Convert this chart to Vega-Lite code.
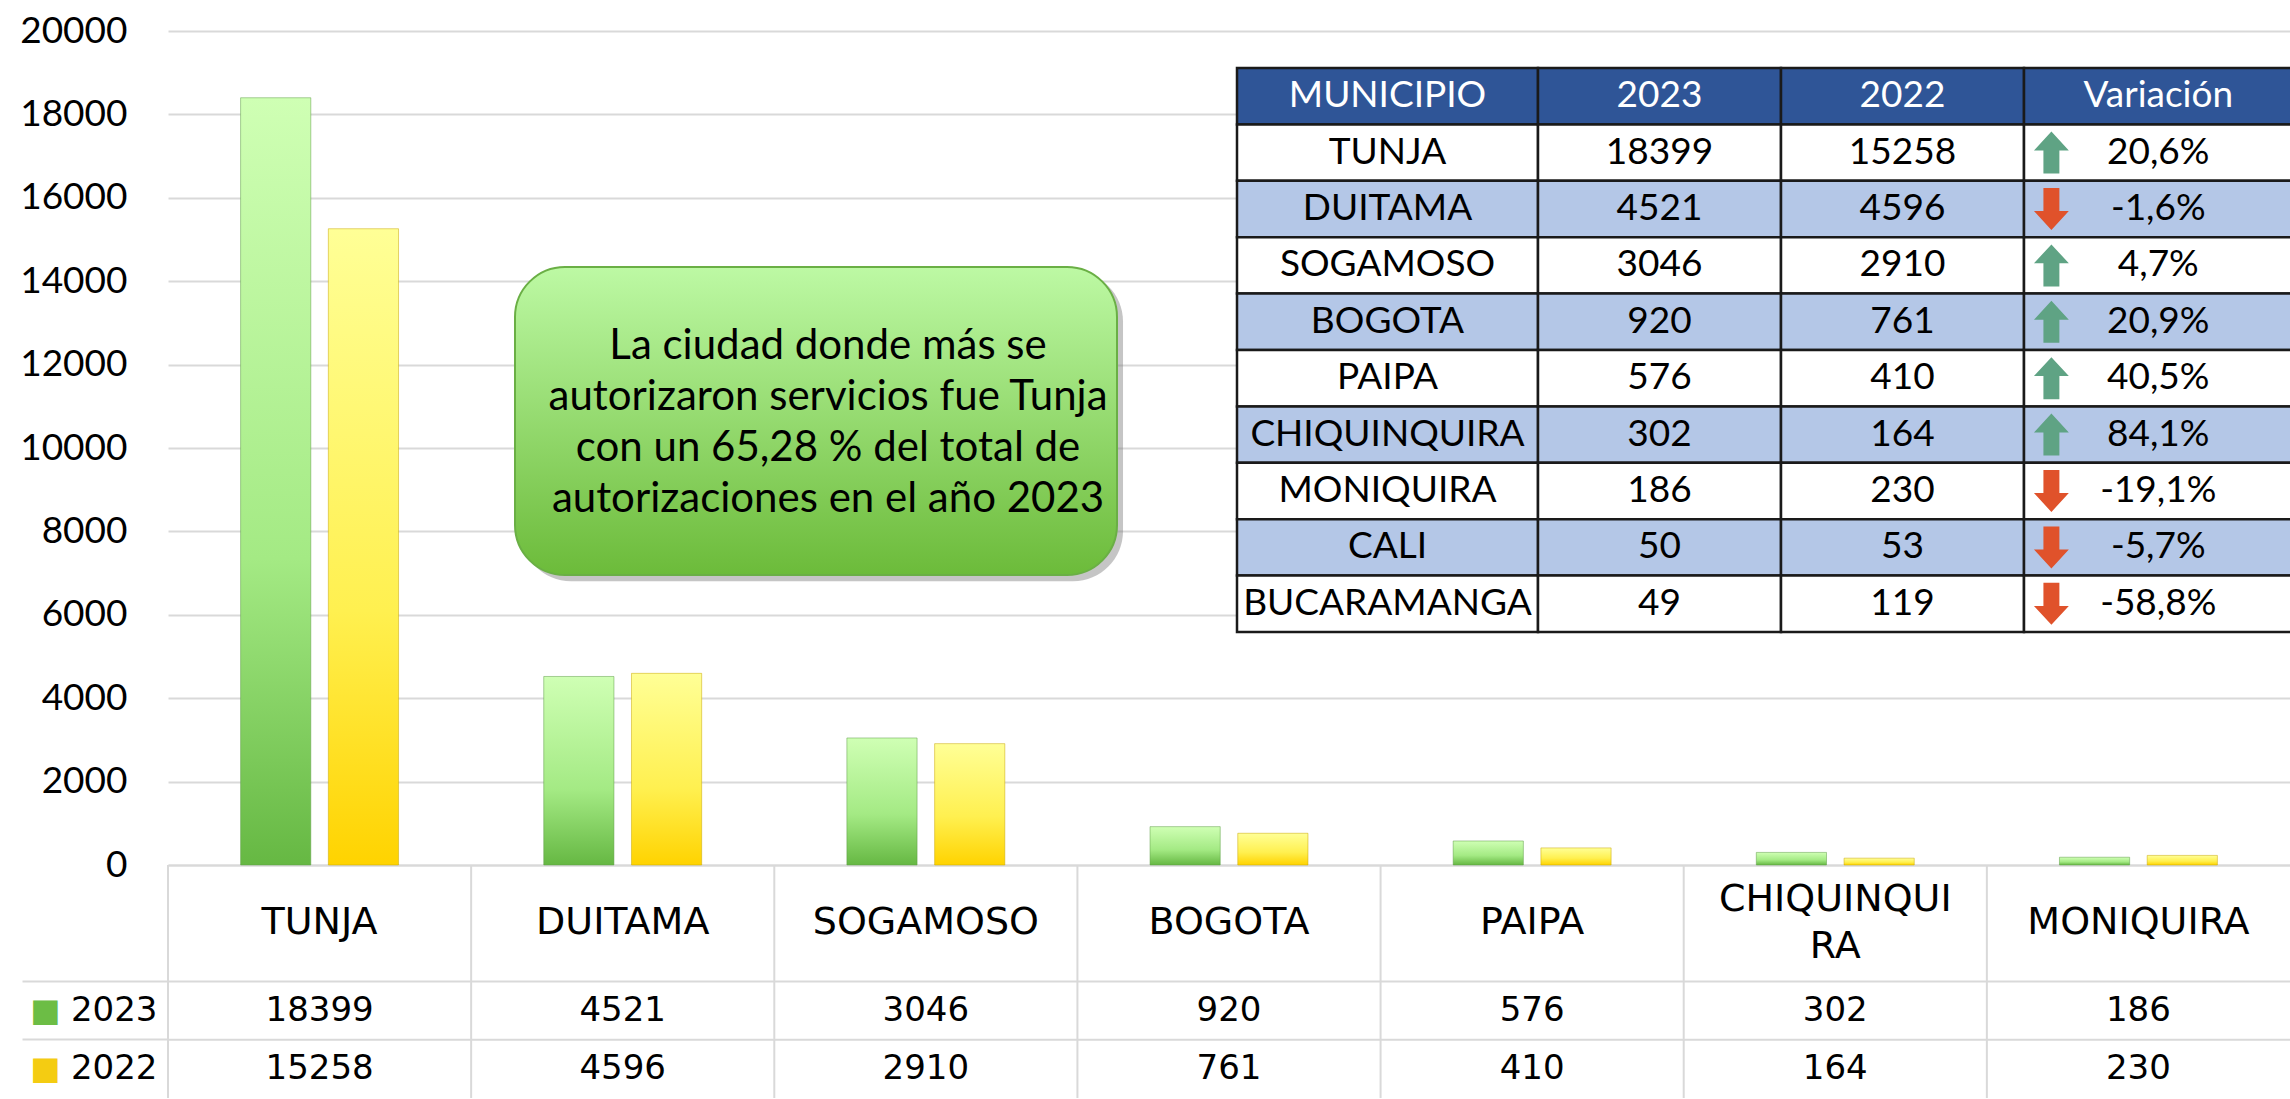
{
  "$schema": "https://vega.github.io/schema/vega-lite/v6.json",
  "background": "#FFFFFF",
  "padding": {"left": 18, "top": 12, "right": 0, "bottom": 0},
  "config": {"view": {"stroke": null}, "font": "Lato"},
  "spacing": 0,
  "bounds": "flush",
  "datasets": {
    "muni": [
      {"municipio": "TUNJA", "etiqueta": "TUNJA", "2023": 18399, "2022": 15258, "variacion": "20,6%", "tendencia": "sube"},
      {"municipio": "DUITAMA", "etiqueta": "DUITAMA", "2023": 4521, "2022": 4596, "variacion": "-1,6%", "tendencia": "baja"},
      {"municipio": "SOGAMOSO", "etiqueta": "SOGAMOSO", "2023": 3046, "2022": 2910, "variacion": "4,7%", "tendencia": "sube"},
      {"municipio": "BOGOTA", "etiqueta": "BOGOTA", "2023": 920, "2022": 761, "variacion": "20,9%", "tendencia": "sube"},
      {"municipio": "PAIPA", "etiqueta": "PAIPA", "2023": 576, "2022": 410, "variacion": "40,5%", "tendencia": "sube"},
      {"municipio": "CHIQUINQUIRA", "etiqueta": "CHIQUINQUI\nRA", "2023": 302, "2022": 164, "variacion": "84,1%", "tendencia": "sube"},
      {"municipio": "MONIQUIRA", "etiqueta": "MONIQUIRA", "2023": 186, "2022": 230, "variacion": "-19,1%", "tendencia": "baja"},
      {"municipio": "CALI", "etiqueta": "CALI", "2023": 50, "2022": 53, "variacion": "-5,7%", "tendencia": "baja"},
      {"municipio": "BUCARAMANGA", "etiqueta": "BUCARAMANGA", "2023": 49, "2022": 119, "variacion": "-58,8%", "tendencia": "baja"}
    ],
    "nota": [
      {"mensaje": "La ciudad donde más se\nautorizaron servicios fue Tunja\ncon un 65,28 % del total de\nautorizaciones en el año 2023"}
    ]
  },
  "vconcat": [
    {
      "width": 2122,
      "height": 834,
      "layer": [
        {
          "data": {"name": "muni"},
          "transform": [
            {"filter": {"field": "municipio", "oneOf": ["TUNJA", "DUITAMA", "SOGAMOSO", "BOGOTA", "PAIPA", "CHIQUINQUIRA", "MONIQUIRA"]}},
            {"fold": ["2023", "2022"], "as": ["anio", "valor"]}
          ],
          "encoding": {
            "x": {
              "field": "municipio", "type": "nominal", "sort": null,
              "scale": {"domain": ["TUNJA", "DUITAMA", "SOGAMOSO", "BOGOTA", "PAIPA", "CHIQUINQUIRA", "MONIQUIRA"], "paddingInner": 0.479, "paddingOuter": 0.2395},
              "axis": {"orient": "bottom", "labels": false, "ticks": false, "domain": true, "domainColor": "#D9D9D9", "domainWidth": 2, "grid": false, "title": null}
            },
            "xOffset": {"field": "anio", "type": "nominal", "scale": {"domain": ["2023", "2022"], "paddingInner": 0.2, "paddingOuter": 0}},
            "y": {
              "field": "valor", "type": "quantitative",
              "scale": {"domain": [0, 20000], "nice": false},
              "axis": {"orient": "left", "values": [0, 2000, 4000, 6000, 8000, 10000, 12000, 14000, 16000, 18000, 20000], "format": "d", "grid": true, "gridColor": "#D9D9D9", "gridWidth": 2, "domain": false, "ticks": false, "labelFont": "Lato", "labelFontSize": 37, "labelColor": "#000000", "labelPadding": 41, "title": null, "minExtent": 150}
            }
          },
          "layer": [
            {
              "transform": [{"filter": "datum.anio == '2023'"}],
              "mark": {"type": "bar", "stroke": "#5E9E45", "strokeWidth": 1, "strokeOpacity": 0.5,
                "fill": {"gradient": "linear", "x1": 0, "y1": 0, "x2": 0, "y2": 1, "stops": [{"offset": 0, "color": "#CFFFB4"}, {"offset": 0.6, "color": "#A4EA84"}, {"offset": 1, "color": "#66B843"}]}}
            },
            {
              "transform": [{"filter": "datum.anio == '2022'"}],
              "mark": {"type": "bar", "stroke": "#C9A800", "strokeWidth": 1, "strokeOpacity": 0.5,
                "fill": {"gradient": "linear", "x1": 0, "y1": 0, "x2": 0, "y2": 1, "stops": [{"offset": 0, "color": "#FFFF96"}, {"offset": 0.6, "color": "#FFF050"}, {"offset": 1, "color": "#FFD300"}]}}
            }
          ]
        },
        {
          "layer": [
            {
              "layer": [
                {
                  "data": {"values": [{"col": "MUNICIPIO"}]},
                  "mark": {"type": "rect", "fill": "#2F5597", "stroke": "#1A1A1A", "strokeWidth": 2.5},
                  "encoding": {
                    "x": {"field": "col", "type": "nominal", "scale": {"domain": ["MUNICIPIO"], "range": [1069, 1370], "paddingInner": 0, "paddingOuter": 0}, "axis": null},
                    "y": {"datum": "HDR", "type": "nominal", "scale": {"domain": ["HDR", "TUNJA", "DUITAMA", "SOGAMOSO", "BOGOTA", "PAIPA", "CHIQUINQUIRA", "MONIQUIRA", "CALI", "BUCARAMANGA"], "range": [37, 601], "paddingInner": 0, "paddingOuter": 0}, "axis": null}
                  }
                },
                {
                  "data": {"values": [{"col": "MUNICIPIO"}]},
                  "mark": {"type": "text", "color": "#FFFFFF", "font": "Lato", "fontSize": 37, "baseline": "middle"},
                  "encoding": {
                    "x": {"field": "col", "type": "nominal", "scale": {"domain": ["MUNICIPIO"], "range": [1069, 1370], "paddingInner": 0, "paddingOuter": 0}, "axis": null},
                    "y": {"datum": "HDR", "type": "nominal", "scale": {"domain": ["HDR", "TUNJA", "DUITAMA", "SOGAMOSO", "BOGOTA", "PAIPA", "CHIQUINQUIRA", "MONIQUIRA", "CALI", "BUCARAMANGA"], "range": [37, 601], "paddingInner": 0, "paddingOuter": 0}, "axis": null},
                    "text": {"field": "col"}
                  }
                },
                {
                  "data": {"name": "muni"},
                  "transform": [{"window": [{"op": "row_number", "as": "rn"}]}],
                  "mark": {"type": "rect", "stroke": "#1A1A1A", "strokeWidth": 2.5},
                  "encoding": {
                    "x": {"datum": "MUNICIPIO", "type": "nominal", "scale": {"domain": ["MUNICIPIO"], "range": [1069, 1370], "paddingInner": 0, "paddingOuter": 0}, "axis": null},
                    "y": {"field": "municipio", "type": "nominal", "scale": {"domain": ["HDR", "TUNJA", "DUITAMA", "SOGAMOSO", "BOGOTA", "PAIPA", "CHIQUINQUIRA", "MONIQUIRA", "CALI", "BUCARAMANGA"], "range": [37, 601], "paddingInner": 0, "paddingOuter": 0}, "axis": null},
                    "fill": {"condition": {"test": "datum.rn % 2 == 0", "value": "#B4C7E7"}, "value": "#FFFFFF"}
                  }
                },
                {
                  "data": {"name": "muni"},
                  "mark": {"type": "text", "color": "#000000", "font": "Lato", "fontSize": 37, "baseline": "middle"},
                  "encoding": {
                    "x": {"datum": "MUNICIPIO", "type": "nominal", "scale": {"domain": ["MUNICIPIO"], "range": [1069, 1370], "paddingInner": 0, "paddingOuter": 0}, "axis": null},
                    "y": {"field": "municipio", "type": "nominal", "scale": {"domain": ["HDR", "TUNJA", "DUITAMA", "SOGAMOSO", "BOGOTA", "PAIPA", "CHIQUINQUIRA", "MONIQUIRA", "CALI", "BUCARAMANGA"], "range": [37, 601], "paddingInner": 0, "paddingOuter": 0}, "axis": null},
                    "text": {"field": "municipio"}
                  }
                }
              ]
            },
            {
              "layer": [
                {
                  "data": {"values": [{"col": "2023"}, {"col": "2022"}]},
                  "mark": {"type": "rect", "fill": "#2F5597", "stroke": "#1A1A1A", "strokeWidth": 2.5},
                  "encoding": {
                    "x": {"field": "col", "type": "nominal", "scale": {"domain": ["2023", "2022"], "range": [1370, 1856], "paddingInner": 0, "paddingOuter": 0}, "axis": null},
                    "y": {"datum": "HDR", "type": "nominal", "scale": {"domain": ["HDR", "TUNJA", "DUITAMA", "SOGAMOSO", "BOGOTA", "PAIPA", "CHIQUINQUIRA", "MONIQUIRA", "CALI", "BUCARAMANGA"], "range": [37, 601], "paddingInner": 0, "paddingOuter": 0}, "axis": null}
                  }
                },
                {
                  "data": {"values": [{"col": "2023"}, {"col": "2022"}]},
                  "mark": {"type": "text", "color": "#FFFFFF", "font": "Lato", "fontSize": 37, "baseline": "middle"},
                  "encoding": {
                    "x": {"field": "col", "type": "nominal", "scale": {"domain": ["2023", "2022"], "range": [1370, 1856], "paddingInner": 0, "paddingOuter": 0}, "axis": null},
                    "y": {"datum": "HDR", "type": "nominal", "scale": {"domain": ["HDR", "TUNJA", "DUITAMA", "SOGAMOSO", "BOGOTA", "PAIPA", "CHIQUINQUIRA", "MONIQUIRA", "CALI", "BUCARAMANGA"], "range": [37, 601], "paddingInner": 0, "paddingOuter": 0}, "axis": null},
                    "text": {"field": "col"}
                  }
                },
                {
                  "data": {"name": "muni"},
                  "transform": [
                    {"window": [{"op": "row_number", "as": "rn"}]},
                    {"fold": ["2023", "2022"], "as": ["anio", "valor"]}
                  ],
                  "mark": {"type": "rect", "stroke": "#1A1A1A", "strokeWidth": 2.5},
                  "encoding": {
                    "x": {"field": "anio", "type": "nominal", "scale": {"domain": ["2023", "2022"], "range": [1370, 1856], "paddingInner": 0, "paddingOuter": 0}, "axis": null},
                    "y": {"field": "municipio", "type": "nominal", "scale": {"domain": ["HDR", "TUNJA", "DUITAMA", "SOGAMOSO", "BOGOTA", "PAIPA", "CHIQUINQUIRA", "MONIQUIRA", "CALI", "BUCARAMANGA"], "range": [37, 601], "paddingInner": 0, "paddingOuter": 0}, "axis": null},
                    "fill": {"condition": {"test": "datum.rn % 2 == 0", "value": "#B4C7E7"}, "value": "#FFFFFF"}
                  }
                },
                {
                  "data": {"name": "muni"},
                  "transform": [{"fold": ["2023", "2022"], "as": ["anio", "valor"]}],
                  "mark": {"type": "text", "color": "#000000", "font": "Lato", "fontSize": 37, "baseline": "middle"},
                  "encoding": {
                    "x": {"field": "anio", "type": "nominal", "scale": {"domain": ["2023", "2022"], "range": [1370, 1856], "paddingInner": 0, "paddingOuter": 0}, "axis": null},
                    "y": {"field": "municipio", "type": "nominal", "scale": {"domain": ["HDR", "TUNJA", "DUITAMA", "SOGAMOSO", "BOGOTA", "PAIPA", "CHIQUINQUIRA", "MONIQUIRA", "CALI", "BUCARAMANGA"], "range": [37, 601], "paddingInner": 0, "paddingOuter": 0}, "axis": null},
                    "text": {"field": "valor", "type": "quantitative", "format": "d"}
                  }
                }
              ]
            },
            {
              "layer": [
                {
                  "data": {"values": [{"col": "Variación"}]},
                  "mark": {"type": "rect", "fill": "#2F5597", "stroke": "#1A1A1A", "strokeWidth": 2.5, "clip": true},
                  "encoding": {
                    "x": {"field": "col", "type": "nominal", "scale": {"domain": ["Variación"], "range": [1856, 2130], "paddingInner": 0, "paddingOuter": 0}, "axis": null},
                    "y": {"datum": "HDR", "type": "nominal", "scale": {"domain": ["HDR", "TUNJA", "DUITAMA", "SOGAMOSO", "BOGOTA", "PAIPA", "CHIQUINQUIRA", "MONIQUIRA", "CALI", "BUCARAMANGA"], "range": [37, 601], "paddingInner": 0, "paddingOuter": 0}, "axis": null}
                  }
                },
                {
                  "data": {"values": [{"col": "Variación"}]},
                  "mark": {"type": "text", "color": "#FFFFFF", "font": "Lato", "fontSize": 37, "baseline": "middle", "clip": true},
                  "encoding": {
                    "x": {"field": "col", "type": "nominal", "bandPosition": 0.49, "scale": {"domain": ["Variación"], "range": [1856, 2130], "paddingInner": 0, "paddingOuter": 0}, "axis": null},
                    "y": {"datum": "HDR", "type": "nominal", "scale": {"domain": ["HDR", "TUNJA", "DUITAMA", "SOGAMOSO", "BOGOTA", "PAIPA", "CHIQUINQUIRA", "MONIQUIRA", "CALI", "BUCARAMANGA"], "range": [37, 601], "paddingInner": 0, "paddingOuter": 0}, "axis": null},
                    "text": {"field": "col"}
                  }
                },
                {
                  "data": {"name": "muni"},
                  "transform": [{"window": [{"op": "row_number", "as": "rn"}]}],
                  "mark": {"type": "rect", "stroke": "#1A1A1A", "strokeWidth": 2.5, "clip": true},
                  "encoding": {
                    "x": {"datum": "Variación", "type": "nominal", "scale": {"domain": ["Variación"], "range": [1856, 2130], "paddingInner": 0, "paddingOuter": 0}, "axis": null},
                    "y": {"field": "municipio", "type": "nominal", "scale": {"domain": ["HDR", "TUNJA", "DUITAMA", "SOGAMOSO", "BOGOTA", "PAIPA", "CHIQUINQUIRA", "MONIQUIRA", "CALI", "BUCARAMANGA"], "range": [37, 601], "paddingInner": 0, "paddingOuter": 0}, "axis": null},
                    "fill": {"condition": {"test": "datum.rn % 2 == 0", "value": "#B4C7E7"}, "value": "#FFFFFF"}
                  }
                },
                {
                  "data": {"name": "muni"},
                  "mark": {"type": "point", "filled": true, "size": 1764, "opacity": 1, "strokeWidth": 1, "clip": true},
                  "encoding": {
                    "x": {"datum": "Variación", "type": "nominal", "bandPosition": 0.1, "scale": {"domain": ["Variación"], "range": [1856, 2130], "paddingInner": 0, "paddingOuter": 0}, "axis": null},
                    "y": {"field": "municipio", "type": "nominal", "scale": {"domain": ["HDR", "TUNJA", "DUITAMA", "SOGAMOSO", "BOGOTA", "PAIPA", "CHIQUINQUIRA", "MONIQUIRA", "CALI", "BUCARAMANGA"], "range": [37, 601], "paddingInner": 0, "paddingOuter": 0}, "axis": null},
                    "shape": {"field": "tendencia", "type": "nominal", "scale": {"domain": ["sube", "baja"], "range": ["M0,-1L0.83,-0.1L0.38,-0.1L0.38,1L-0.38,1L-0.38,-0.1L-0.83,-0.1Z", "M0,1L0.83,0.1L0.38,0.1L0.38,-1L-0.38,-1L-0.38,0.1L-0.83,0.1Z"]}, "legend": null},
                    "color": {"field": "tendencia", "type": "nominal", "scale": {"domain": ["sube", "baja"], "range": ["#5FA384", "#E0522B"]}, "legend": null}
                  }
                },
                {
                  "data": {"name": "muni"},
                  "mark": {"type": "text", "color": "#000000", "font": "Lato", "fontSize": 37, "baseline": "middle", "clip": true},
                  "encoding": {
                    "x": {"datum": "Variación", "type": "nominal", "bandPosition": 0.49, "scale": {"domain": ["Variación"], "range": [1856, 2130], "paddingInner": 0, "paddingOuter": 0}, "axis": null},
                    "y": {"field": "municipio", "type": "nominal", "scale": {"domain": ["HDR", "TUNJA", "DUITAMA", "SOGAMOSO", "BOGOTA", "PAIPA", "CHIQUINQUIRA", "MONIQUIRA", "CALI", "BUCARAMANGA"], "range": [37, 601], "paddingInner": 0, "paddingOuter": 0}, "axis": null},
                    "text": {"field": "variacion"}
                  }
                }
              ]
            }
          ],
          "resolve": {"scale": {"x": "independent"}, "axis": {"x": "independent"}}
        },
        {
          "data": {"name": "nota"},
          "layer": [
            {
              "mark": {"type": "rect", "cornerRadius": 50, "fill": "#7F7F7F", "opacity": 0.45},
              "encoding": {
                "x": {"datum": 0.01, "type": "quantitative", "scale": {"domain": [0, 1], "range": [347, 949]}, "axis": null},
                "x2": {"datum": 1.01},
                "y": {"datum": 0.015, "type": "quantitative", "scale": {"domain": [0, 1], "range": [236, 544]}, "axis": null},
                "y2": {"datum": 1.02}
              }
            },
            {
              "mark": {"type": "rect", "cornerRadius": 50, "stroke": "#6AAF45", "strokeWidth": 2,
                "fill": {"gradient": "linear", "x1": 0, "y1": 0, "x2": 0, "y2": 1, "stops": [{"offset": 0, "color": "#BDF9A4"}, {"offset": 1, "color": "#6CBB3A"}]}},
              "encoding": {
                "x": {"datum": 0, "type": "quantitative", "scale": {"domain": [0, 1], "range": [347, 949]}, "axis": null},
                "x2": {"datum": 1},
                "y": {"datum": 0, "type": "quantitative", "scale": {"domain": [0, 1], "range": [236, 544]}, "axis": null},
                "y2": {"datum": 1}
              }
            },
            {
              "mark": {"type": "text", "font": "Lato", "fontSize": 42, "lineHeight": 51, "lineBreak": "\n", "align": "center", "baseline": "middle", "color": "#000000"},
              "encoding": {
                "x": {"datum": 0.52, "type": "quantitative", "scale": {"domain": [0, 1], "range": [347, 949]}, "axis": null},
                "y": {"datum": 0.256, "type": "quantitative", "scale": {"domain": [0, 1], "range": [236, 544]}, "axis": null},
                "text": {"field": "mensaje"}
              }
            }
          ]
        }
      ],
      "resolve": {"scale": {"x": "independent", "y": "independent"}, "axis": {"x": "independent", "y": "independent"}}
    },
    {
      "width": 2122,
      "height": 233,
      "data": {"name": "muni"},
      "transform": [
        {"filter": {"field": "municipio", "oneOf": ["TUNJA", "DUITAMA", "SOGAMOSO", "BOGOTA", "PAIPA", "CHIQUINQUIRA", "MONIQUIRA"]}},
        {"window": [{"op": "row_number", "as": "col"}]}
      ],
      "layer": [
        {
          "mark": {"type": "rule", "color": "#D9D9D9", "strokeWidth": 2},
          "encoding": {
            "x": {"field": "municipio", "type": "nominal", "sort": null, "bandPosition": 0, "scale": {"domain": ["TUNJA", "DUITAMA", "SOGAMOSO", "BOGOTA", "PAIPA", "CHIQUINQUIRA", "MONIQUIRA"], "paddingInner": 0, "paddingOuter": 0}, "axis": null}
          }
        },
        {
          "transform": [
            {"fold": ["2023", "2022"], "as": ["anio", "valor"]},
            {"filter": "datum.col == 1"}
          ],
          "mark": {"type": "rule", "color": "#D9D9D9", "strokeWidth": 2},
          "encoding": {
            "y": {"field": "anio", "type": "nominal", "bandPosition": 0, "scale": {"domain": ["h1", "h2", "2023", "2022"], "paddingInner": 0, "paddingOuter": 0},
              "axis": {"orient": "left", "values": ["2023", "2022"], "bandPosition": 0, "ticks": true, "tickSize": 146, "tickColor": "#D9D9D9", "tickWidth": 2, "labels": false, "domain": false, "grid": false, "title": null, "minExtent": 150}}
          }
        },
        {
          "transform": [{"fold": ["2023", "2022"], "as": ["anio", "valor"]}],
          "mark": {"type": "text", "font": "DejaVu Sans", "fontSize": 34, "color": "#000000", "baseline": "middle"},
          "encoding": {
            "x": {"field": "municipio", "type": "nominal", "sort": null, "scale": {"domain": ["TUNJA", "DUITAMA", "SOGAMOSO", "BOGOTA", "PAIPA", "CHIQUINQUIRA", "MONIQUIRA"], "paddingInner": 0, "paddingOuter": 0}, "axis": null},
            "y": {"field": "anio", "type": "nominal", "scale": {"domain": ["h1", "h2", "2023", "2022"], "paddingInner": 0, "paddingOuter": 0},
              "axis": {"orient": "left", "values": ["2023", "2022"], "labelFont": "DejaVu Sans", "labelFontSize": 34, "labelColor": "#000000", "labelAlign": "right", "labelBaseline": "middle", "labelPadding": 11, "ticks": false, "domain": false, "grid": false, "title": null, "minExtent": 150}},
            "text": {"field": "valor", "type": "quantitative", "format": "d"}
          }
        },
        {
          "transform": [{"filter": "indexof(datum.etiqueta, '\\n') < 0"}],
          "mark": {"type": "text", "font": "DejaVu Sans", "fontSize": 38, "color": "#000000", "baseline": "middle", "dy": 29},
          "encoding": {
            "x": {"field": "municipio", "type": "nominal", "sort": null, "scale": {"domain": ["TUNJA", "DUITAMA", "SOGAMOSO", "BOGOTA", "PAIPA", "CHIQUINQUIRA", "MONIQUIRA"], "paddingInner": 0, "paddingOuter": 0}, "axis": null},
            "y": {"datum": "h1", "type": "nominal", "scale": {"domain": ["h1", "h2", "2023", "2022"], "paddingInner": 0, "paddingOuter": 0}, "axis": null},
            "text": {"field": "etiqueta"}
          }
        },
        {
          "transform": [{"filter": "indexof(datum.etiqueta, '\\n') >= 0"}],
          "mark": {"type": "text", "font": "DejaVu Sans", "fontSize": 38, "color": "#000000", "baseline": "middle", "lineBreak": "\n", "lineHeight": 47, "dy": 5.5},
          "encoding": {
            "x": {"field": "municipio", "type": "nominal", "sort": null, "scale": {"domain": ["TUNJA", "DUITAMA", "SOGAMOSO", "BOGOTA", "PAIPA", "CHIQUINQUIRA", "MONIQUIRA"], "paddingInner": 0, "paddingOuter": 0}, "axis": null},
            "y": {"datum": "h1", "type": "nominal", "scale": {"domain": ["h1", "h2", "2023", "2022"], "paddingInner": 0, "paddingOuter": 0}, "axis": null},
            "text": {"field": "etiqueta"}
          }
        },
        {
          "transform": [{"fold": ["2023", "2022"], "as": ["anio", "valor"]}],
          "mark": {"type": "text", "fontSize": 10},
          "encoding": {
            "x": {"field": "municipio", "type": "nominal", "sort": null, "scale": {"domain": ["TUNJA", "DUITAMA", "SOGAMOSO", "BOGOTA", "PAIPA", "CHIQUINQUIRA", "MONIQUIRA"], "paddingInner": 0, "paddingOuter": 0}, "axis": null},
            "y": {"field": "anio", "type": "nominal", "scale": {"domain": ["h1", "h2", "2023", "2022"], "paddingInner": 0, "paddingOuter": 0},
              "axis": {"orient": "left", "values": ["2023", "2022"], "labelExpr": "'■'", "labelFont": "DejaVu Sans", "labelFontSize": 32, "labelColor": {"condition": {"test": "datum.value == '2023'", "value": "#6CBD45"}, "value": "#F4CC12"}, "labelAlign": "right", "labelBaseline": "middle", "labelPadding": 108, "ticks": false, "domain": false, "grid": false, "title": null, "minExtent": 150}},
            "text": {"value": ""}
          }
        }
      ],
      "resolve": {"axis": {"y": "independent"}}
    }
  ]
}
